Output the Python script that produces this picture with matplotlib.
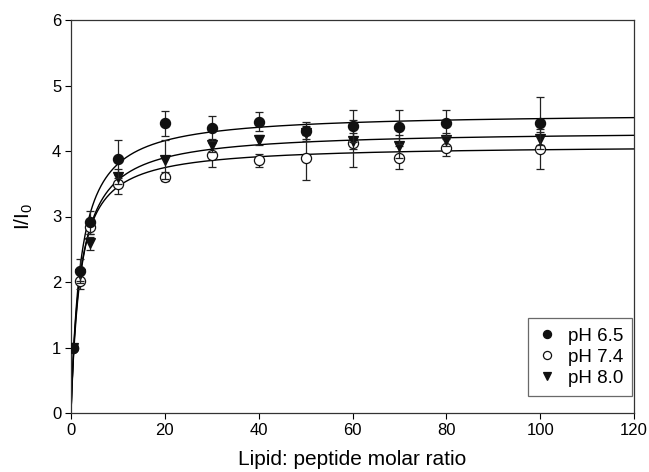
import numpy as np
import matplotlib
matplotlib.use("Agg")
import matplotlib.pyplot as plt

plt.rcParams['font.family'] = ['Liberation Sans', 'DejaVu Sans']
plt.rcParams['mathtext.fontset'] = 'custom'
plt.rcParams['mathtext.rm'] = 'Liberation Sans'
plt.rcParams['mathtext.it'] = 'Liberation Sans:italic'

# Data
ratio = [0.5, 2, 4, 10, 20, 30, 40, 50, 60, 70, 80, 100]
ph65 = [1.00, 2.17, 2.91, 3.88, 4.42, 4.35, 4.45, 4.30, 4.38, 4.37, 4.43, 4.43]
ph65_err = [0.02, 0.18, 0.18, 0.29, 0.19, 0.19, 0.14, 0.15, 0.24, 0.26, 0.20, 0.40]
ph74 = [1.00, 2.01, 2.84, 3.49, 3.61, 3.94, 3.86, 3.90, 4.12, 3.90, 4.05, 4.03]
ph74_err = [0.03, 0.12, 0.10, 0.15, 0.07, 0.18, 0.10, 0.35, 0.36, 0.17, 0.13, 0.30]
ph80 = [1.00, 2.12, 2.59, 3.61, 3.87, 4.09, 4.17, 4.28, 4.15, 4.07, 4.17, 4.19]
ph80_err = [0.02, 0.10, 0.10, 0.12, 0.30, 0.10, 0.08, 0.10, 0.12, 0.18, 0.10, 0.10]

labels = ['pH 6.5', 'pH 7.4', 'pH 8.0']
x_ticks = [0, 20, 40, 60, 80, 100, 120]
y_ticks = [0, 1, 2, 3, 4, 5, 6]


def hyperbola_fit(x, y):
    """Least-squares fit of y = Bmax*x/(Kd+x) to the data."""
    x = np.asarray(x, float)
    y = np.asarray(y, float)
    best = None
    for kd in np.linspace(0.05, 20, 4000):
        g = x / (kd + x)
        bmax = np.dot(g, y) / np.dot(g, g)
        sse = np.sum((y - bmax * g) ** 2)
        if best is None or sse < best[0]:
            best = (sse, bmax, kd)
    return best[1], best[2]


fig = plt.figure(figsize=(6.49, 4.72), dpi=100)
ax = fig.add_axes([71 / 649, 1 - 413 / 472, (634 - 71) / 649, (413 - 20) / 472])

xs = np.linspace(0, 120, 1200)
series = [(ph65, ph65_err), (ph74, ph74_err), (ph80, ph80_err)]
for y, _ in series:
    bmax, kd = hyperbola_fit(ratio, y)
    ax.plot(xs, bmax * xs / (kd + xs), color='black', lw=1.0, zorder=2)

styles = [
    dict(marker='o', mfc='#111111', mec='#111111', ms=7.3),
    dict(marker='o', mfc='white', mec='#111111', ms=7.3),
    dict(marker='v', mfc='#111111', mec='#111111', ms=7.8),
]
order_z = [5, 3, 4]
for (y, e), st, lab, z in zip(series, styles, labels, order_z):
    ax.errorbar(ratio, y, yerr=e, fmt='none', ecolor='#222222', elinewidth=0.9,
                capsize=3, capthick=0.9, zorder=z - 0.5)
    ax.plot(ratio, y, ls='none', mew=0.9, zorder=z, label=lab, **st)

ax.set_xlim(0, 120)
ax.set_ylim(0, 6)
ax.set_xticks(x_ticks)
ax.set_yticks(y_ticks)
ax.tick_params(direction='out', length=4, width=0.8, labelsize=12, pad=3,
               top=False, right=False)
for s in ax.spines.values():
    s.set_color('#333333')
    s.set_linewidth(0.9)

ax.set_xlabel('Lipid: peptide molar ratio', fontsize=15, labelpad=9)
ax.set_ylabel(r'I/I$_\mathregular{0}$', fontsize=15, labelpad=12)

leg_handles = [plt.Line2D([], [], ls='none', marker=st['marker'], mfc=st['mfc'],
                          mec=st['mec'], ms=st['ms'] * 0.8, mew=0.9) for st in styles]
leg = ax.legend(leg_handles, labels, loc='lower right', bbox_to_anchor=(0.997, 0.043),
                borderaxespad=0, fontsize=13.5, frameon=True, fancybox=False,
                edgecolor='#444444', handlelength=1.0, handletextpad=0.6,
                labelspacing=0.2, borderpad=0.5)
leg.get_frame().set_linewidth(0.9)

fig.savefig('out.png', dpi=100)
